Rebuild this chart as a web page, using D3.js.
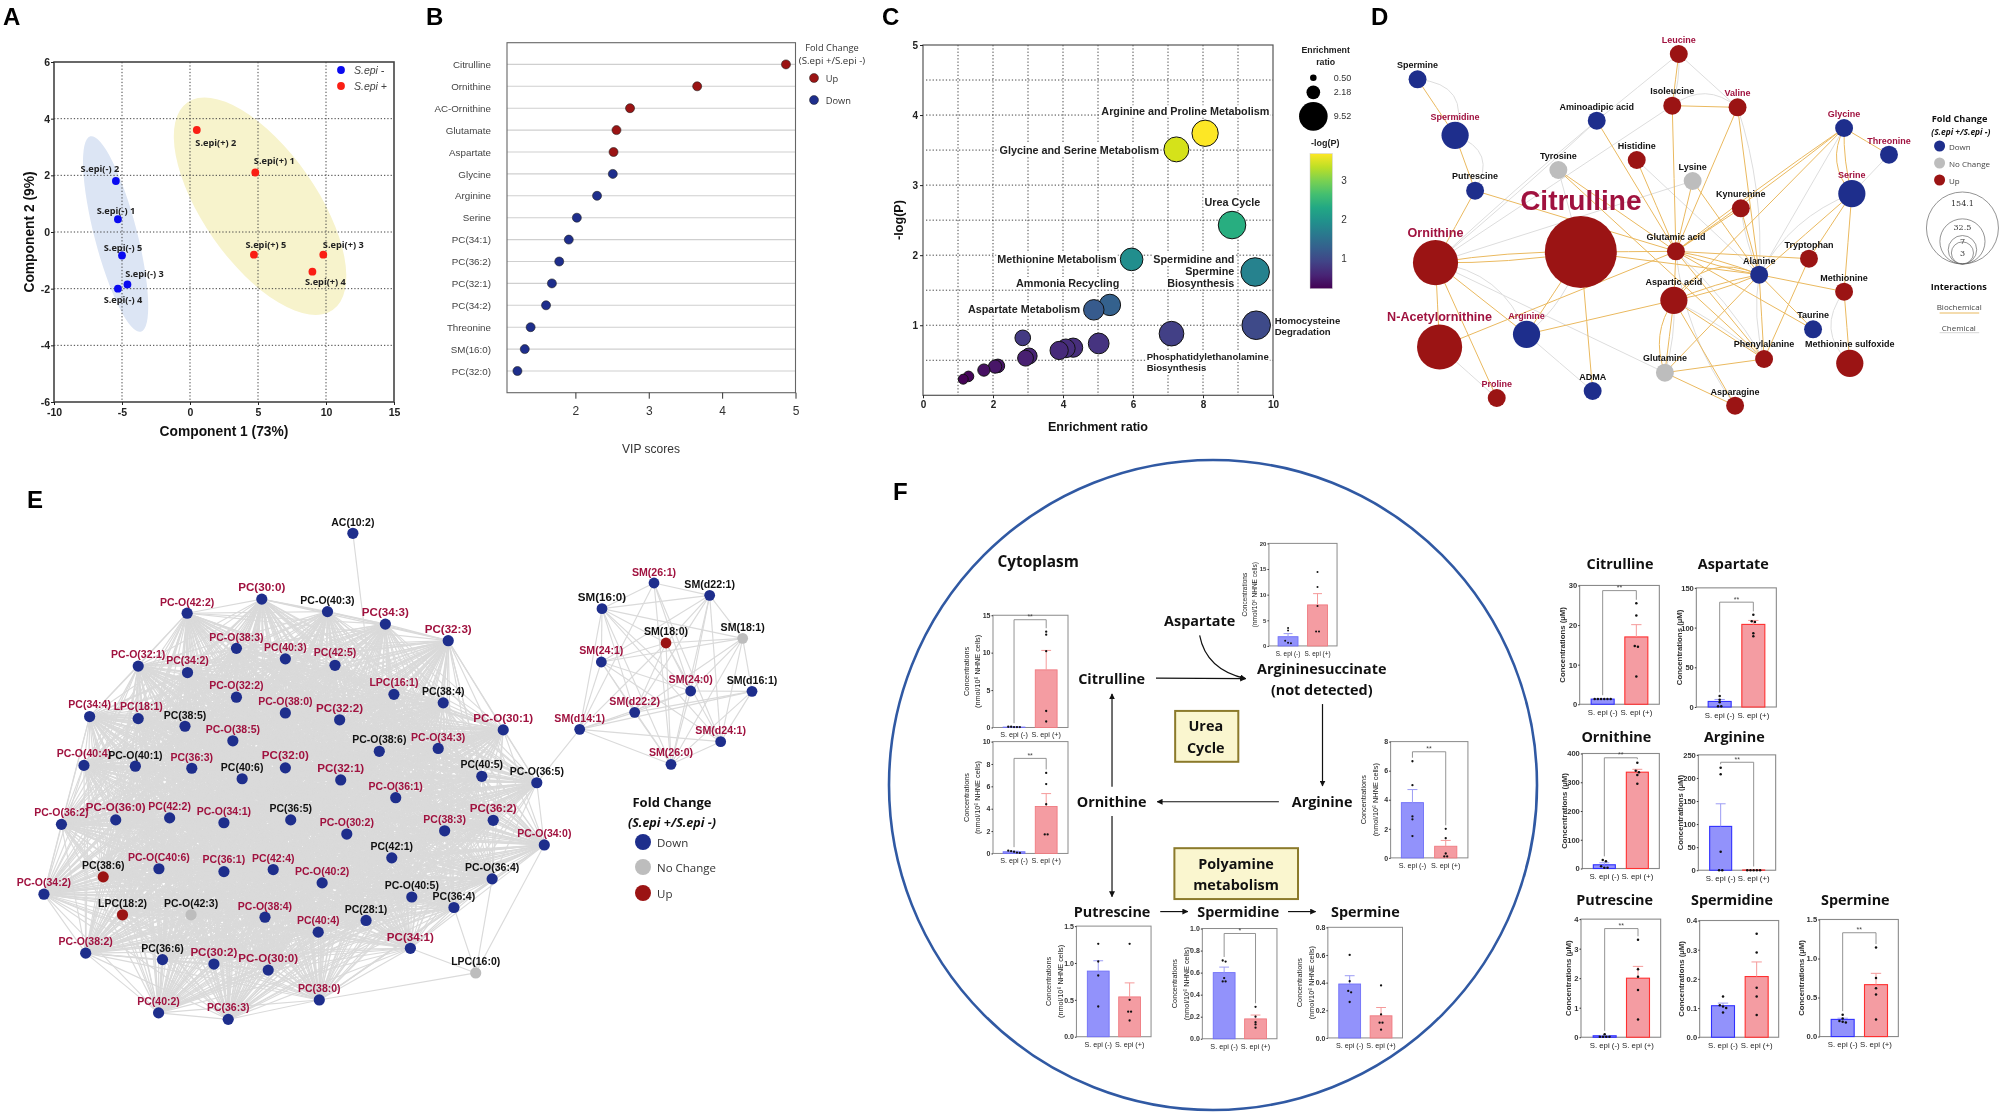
<!DOCTYPE html>
<html><head><meta charset="utf-8">
<script src="https://cdn.jsdelivr.net/npm/d3@7/dist/d3.min.js"></script>
<style>html,body{margin:0;padding:0;background:#fff}svg{display:block;filter:blur(0.4px)}text{font-family:"Liberation Sans",Arial,sans-serif}</style>
</head><body><svg id="c" width="2000" height="1113" viewBox="0 0 2000 1113"></svg>
<script>
/* ---------- Panel A: PLS-DA scores ---------- */
const pcaNames=["S.epi(-) 1","S.epi(-) 2","S.epi(-) 3","S.epi(-) 4","S.epi(-) 5","S.epi(+) 1","S.epi(+) 2","S.epi(+) 3","S.epi(+) 4","S.epi(+) 5"];
const pcaC1=[-5.3,-5.45,-4.6,-5.3,-5.0,4.8,0.5,9.8,9.0,4.7];
const pcaC2=[0.45,1.8,-1.85,-2.0,-0.83,2.1,3.6,-0.8,-1.4,-0.8];
const pcaLabelDx=[-2,-16,17,5,1,19,19,20,13,12];
const pcaLabelDy=[-9,-13,-11,11,-8,-12,12,-10,10,-10];
/* ---------- Panel B: VIP ---------- */
const vipNames=["Citrulline","Ornithine","AC-Ornithine","Glutamate","Aspartate","Glycine","Arginine","Serine","PC(34:1)","PC(36:2)","PC(32:1)","PC(34:2)","Threonine","SM(16:0)","PC(32:0)"];
const vipScores=[4.87,3.66,2.745,2.56,2.52,2.51,2.295,2.02,1.91,1.78,1.68,1.6,1.39,1.31,1.21];
const vipUp=["Citrulline","Ornithine","AC-Ornithine","Glutamate","Aspartate"];
/* ---------- Panel C: enrichment ---------- */
const enrRatio=[8.06,7.24,8.83,5.96,9.49,5.34,4.88,9.52,7.1,2.85,5.02,4.29,4.08,3.89,3.03,2.93,2.14,2.06,1.74,1.3,1.15];
const enrLogP=[3.74,3.51,2.43,1.94,1.76,1.29,1.22,1.0,0.88,0.82,0.74,0.68,0.67,0.64,0.56,0.53,0.42,0.41,0.36,0.27,0.23];
const enrLegend=[0.5,2.18,9.52];
/* ---------- Panel D: metabolite network ---------- */
const dLayout=[["Spermine",141,238,141,196],["Spermidine",233,406,233,350],["Putrescine",282,572,282,529],["Ornithine",185,788,185,698],["N-Acetylornithine",195,1041,195,952],["Citrulline",541,756,541,600],["Arginine",408,1003,408,947],["Proline",335,1194,335,1152],["ADMA",570,1173,570,1131],["Aminoadipic acid",580,362,580,320],["Tyrosine",486,510,486,468],["Histidine",678,480,678,438],["Lysine",815,543,815,501],["Leucine",781,162,781,120],["Isoleucine",765,317,765,274],["Valine",925,322,925,279],["Kynurenine",933,625,933,582],["Glutamic acid",774,754,774,711],["Alanine",978,824,978,782],["Aspartic acid",769,901,769,846],["Tryptophan",1100,776,1100,734],["Methionine",1186,875,1186,833],["Taurine",1110,988,1110,945],["Phenylalanine",990,1077,990,1033],["Glutamine",747,1118,747,1074],["Asparagine",919,1217,919,1175],["Methionine sulfoxide",1200,1090,1200,1033],["Glycine",1186,384,1186,342],["Threonine",1296,464,1296,422],["Serine",1205,581,1205,526]];
const dUp=["Ornithine","N-Acetylornithine","Citrulline","Proline","Histidine","Leucine","Isoleucine","Valine","Kynurenine","Glutamic acid","Aspartic acid","Tryptophan","Methionine","Phenylalanine","Asparagine","Methionine sulfoxide"];
const dNoChange=["Tyrosine","Lysine","Glutamine"];
const dRedLabels=["Spermidine","Ornithine","N-Acetylornithine","Citrulline","Arginine","Proline","Leucine","Valine","Glycine","Threonine","Serine"];
const dConcentration={Citrulline:154.1,Ornithine:32.5,"N-Acetylornithine":32.5,Spermidine:6,Arginine:6,"Aspartic acid":6,Serine:6,"Methionine sulfoxide":6};
const dSizeLegend=[154.1,32.5,7,3];
const dBio=[["Spermine","Spermidine"],["Spermidine","Putrescine"],["Putrescine","Ornithine"],["Putrescine","Glutamic acid"],["Ornithine","Citrulline",4],["Ornithine","Citrulline",-4],["Ornithine","N-Acetylornithine"],["Ornithine","Proline"],["Ornithine","Arginine"],["Citrulline","Glutamic acid"],["Citrulline","Arginine"],["Citrulline","ADMA"],["Citrulline","Alanine"],["N-Acetylornithine","Glutamic acid"],["Arginine","Aspartic acid"],["Tyrosine","Glutamic acid"],["Tyrosine","Phenylalanine"],["Aminoadipic acid","Glutamic acid"],["Histidine","Glutamic acid"],["Isoleucine","Glutamic acid"],["Isoleucine","Valine"],["Valine","Glutamic acid"],["Valine","Alanine"],["Leucine","Isoleucine"],["Lysine","Glutamic acid"],["Lysine","Alanine"],["Kynurenine","Glutamic acid"],["Kynurenine","Alanine"],["Glutamic acid","Aspartic acid"],["Glutamic acid","Alanine",3],["Glutamic acid","Alanine",-3],["Glutamic acid","Tryptophan"],["Glutamic acid","Taurine"],["Glutamic acid","Phenylalanine"],["Aspartic acid","Alanine",3],["Aspartic acid","Alanine",-3],["Aspartic acid","Alanine",-24],["Aspartic acid","Phenylalanine"],["Aspartic acid","Asparagine"],["Aspartic acid","Glutamine",12],["Aspartic acid","Glutamine"],["Glutamine","Phenylalanine"],["Glutamine","Asparagine"],["Glutamine","Alanine"],["Glycine","Serine",3],["Glycine","Serine",14],["Glycine","Threonine"],["Glycine","Glutamic acid",2],["Glycine","Glutamic acid",-2],["Glycine","Aspartic acid"],["Serine","Alanine"],["Serine","Tryptophan"],["Serine","Methionine"],["Methionine","Alanine"],["Methionine","Methionine sulfoxide"],["Tryptophan","Phenylalanine"],["Alanine","Phenylalanine"],["Alanine","Taurine"]];
const dChem=[["Leucine","Aminoadipic acid"],["Leucine","Valine"],["Leucine","Isoleucine",-3],["Isoleucine","Valine",-16],["Spermine","Spermidine",-26],["Spermidine","Putrescine",-22],["Ornithine","Aminoadipic acid",2],["Ornithine","Aminoadipic acid",-2],["Ornithine","Isoleucine"],["Ornithine","Lysine"],["Ornithine","Arginine",-22],["Ornithine","Glutamine"],["Citrulline","Tyrosine"],["Arginine","ADMA"],["N-Acetylornithine","Proline"],["Histidine","Alanine"],["Valine","Alanine",-10],["Kynurenine","Alanine",3],["Serine","Alanine",14],["Threonine","Serine"],["Glycine","Alanine"],["Glutamic acid","Phenylalanine",-6],["Aspartic acid","Phenylalanine",-4],["Alanine","Phenylalanine",6],["Methionine","Methionine sulfoxide",20],["Aspartic acid","Glutamine",-4],["Glutamic acid","Asparagine",14],["Arginine","Citrulline",10]];
/* ---------- Panel E: lipid network ---------- */
const eLayout=[["AC(10:2)",988,132,104],["PC(30:0)",733,295,264],["PC-O(42:2)",524,330,301],["PC-O(40:3)",917,326,297],["PC(34:3)",1079,357,326],["PC(32:3)",1255,398,367],["PC-O(38:3)",662,417,388],["PC(40:3)",799,443,413],["PC(42:5)",938,459,427],["PC-O(32:1)",387,461,431],["PC(34:2)",525,477,447],["LPC(16:1)",1103,531,501],["PC(38:4)",1241,552,523],["PC-O(32:2)",662,538,508],["PC-O(38:0)",799,577,548],["PC(32:2)",951,594,563],["PC(34:4)",251,586,556],["LPC(18:1)",387,591,561],["PC(38:5)",518,610,581],["PC-O(38:5)",652,646,616],["PC-O(30:1)",1409,619,588],["PC-O(38:6)",1062,672,641],["PC-O(34:3)",1227,665,636],["PC-O(40:4)",235,707,677],["PC-O(40:1)",379,709,680],["PC(36:3)",537,714,685],["PC(40:6)",678,740,711],["PC(32:0)",799,713,681],["PC(32:1)",954,743,712],["PC-O(36:1)",1108,787,757],["PC(40:5)",1349,734,704],["PC-O(36:5)",1503,750,721],["PC-O(36:2)",172,853,823],["PC-O(36:0)",324,842,810],["PC(42:2)",475,837,807],["PC-O(34:1)",627,849,819],["PC(36:5)",814,842,813],["PC-O(30:2)",971,877,848],["PC(38:3)",1245,869,839],["PC(36:2)",1381,843,811],["PC-O(34:0)",1524,904,875],["PC(42:1)",1097,936,907],["PC-O(36:4)",1378,988,959],["PC-O(C40:6)",445,963,934],["PC(36:1)",627,970,940],["PC(42:4)",765,965,936],["PC-O(40:2)",902,998,968],["PC(38:6)",289,983,954],["PC-O(34:2)",123,1026,997],["PC-O(40:5)",1153,1033,1003],["PC(36:4)",1271,1059,1030],["LPC(18:2)",343,1077,1048],["PC-O(42:3)",535,1077,1049],["PC-O(38:4)",742,1083,1055],["PC(28:1)",1025,1091,1062],["PC(40:4)",891,1120,1090],["PC-O(38:2)",240,1172,1142],["PC(36:6)",455,1188,1159],["PC(30:2)",599,1199,1168],["PC-O(30:0)",751,1214,1184],["PC(34:1)",1149,1160,1130],["LPC(16:0)",1332,1221,1192],["PC(38:0)",894,1288,1258],["PC(40:2)",444,1320,1291],["PC(36:3) ",639,1336,1306]];
const eUp=["PC(38:6)","LPC(18:2)"];
const eNoChange=["PC-O(42:3)","LPC(16:0)"];
const eBlack=["AC(10:2)","PC-O(40:3)","PC(38:4)","PC(38:5)","PC-O(38:6)","PC-O(40:1)","PC(40:6)","PC(40:5)","PC-O(36:5)","PC(36:5)","PC(42:1)","PC-O(36:4)","PC(38:6)","PC-O(40:5)","PC(36:4)","LPC(18:2)","PC-O(42:3)","PC(28:1)","PC(36:6)","LPC(16:0)"];
const eBig=["PC(30:0)","PC(34:3)","PC(32:3)","PC(32:2)","PC(32:0)","PC(32:1)","PC-O(30:1)","PC-O(36:0)","PC(36:2)","PC(34:1)","PC-O(30:0)","PC(30:2)"];
const eLpc16Links=["PC-O(34:0)","PC(36:4)","PC(34:1)","PC(38:0)","PC-O(36:4)"];
const smLayout=[["SM(26:1)",402,129,95],["SM(d22:1)",569,166,131],["SM(16:0)",246,206,168],["SM(18:0)",438,309,274],["SM(18:1)",668,295,261],["SM(24:1)",244,366,330],["SM(24:0)",512,453,418],["SM(d16:1)",696,454,419],["SM(d22:2)",344,517,482],["SM(d14:1)",179,568,533],["SM(d24:1)",602,605,569],["SM(26:0)",453,673,637]];
const smBlack=["SM(d22:1)","SM(16:0)","SM(18:0)","SM(18:1)","SM(d16:1)"];
const smMissing=[["SM(d22:1)","SM(d14:1)"],["SM(26:1)","SM(d16:1)"],["SM(26:1)","SM(18:1)"],["SM(16:0)","SM(d16:1)"],["SM(24:1)","SM(26:1)"],["SM(24:1)","SM(d16:1)"],["SM(18:0)","SM(26:1)"],["SM(d24:1)","SM(24:0)"],["SM(d24:1)","SM(d22:2)"],["SM(d14:1)","SM(18:1)"],["SM(d22:1)","SM(d16:1)"],["SM(d22:2)","SM(26:1)"],["SM(d16:1)","SM(18:0)"]];
/* ---------- Panel F: cytoplasm bars ---------- */
const barGroups=["S. epi (-)","S. epi (+)"];
const cCitTicks=[0,5,10,15],cCitMeans=[0.05,7.7],cCitTops=[0.08,10.3],cCitNeg=[0.1,0.05,0.05,0.05,0.1],cCitPos=[12.8,12.4,10.2,2.2,0.8];
const cOrnTicks=[0,2,4,6,8,10],cOrnMeans=[0.15,4.2],cOrnTops=[0.2,5.35],cOrnNeg=[0.25,0.2,0.15,0.08,0.05],cOrnPos=[7.2,6.2,4.4,1.7,1.7];
const cAspTicks=[0,5,10,15,20],cAspMeans=[1.8,8],cAspTops=[2.4,10.2],cAspNeg=[3.5,3,1,0.5,0.6],cAspPos=[14.4,11.5,7.8,2.8,2.8];
const cArgTicks=[0,2,4,6,8],cArgMeans=[3.8,0.8],cArgTops=[4.7,1.2],cArgNeg=[6.65,5,2.85,2.65,1.5],cArgPos=[2,1.35,0.3,0.1,0.1];
const cPutTicks=[0,0.5,1,1.5],cPutMeans=[0.89,0.54],cPutTops=[1.03,0.73],cPutNeg=[1.26,1.02,0.83,0.41],cPutPos=[1.26,0.5,0.34,0.34,0.22];
const cSpdTicks=[0,0.2,0.4,0.6,0.8,1],cSpdMeans=[0.6,0.18],cSpdTops=[0.65,0.215],cSpdNeg=[0.71,0.7,0.55,0.52,0.52],cSpdPos=[0.29,0.2,0.15,0.13,0.1];
const cSpmTicks=[0,0.2,0.4,0.6,0.8],cSpmMeans=[0.39,0.16],cSpmTops=[0.45,0.22],cSpmNeg=[0.6,0.41,0.34,0.33,0.26],cSpmPos=[0.38,0.17,0.11,0.11,0.06];
/* ---------- Panel F: extracellular bars ---------- */
const xCitTicks=[0,10,20,30],xCitMeans=[1.3,17],xCitTops=[1.4,20.1],xCitNeg=[1.3,1.3,1.3,1.3,1.3,1.3],xCitPos=[25.5,22.4,14.7,14.5,7];
const xAspTicks=[0,50,100,150],xAspMeans=[7,104],xAspTops=[9.5,109],xAspNeg=[14,9,6,1,1],xAspPos=[116,108,107,93,89];
const xOrnTicks=[0,100,200,300,400],xOrnMeans=[13,335],xOrnTops=[20,345],xOrnNeg=[30,25,8,3,3],xOrnPos=[368,340,335,325,295];
const xArgTicks=[0,50,100,150,200,250],xArgMeans=[95,0.5],xArgTops=[144,0.5],xArgNeg=[222,208,40,0,0],xArgPos=[0,0,0,0,0];
const xPutTicks=[0,1,2,3,4],xPutMeans=[0.05,2],xPutTops=[0.06,2.4],xPutNeg=[0.1,0.02,0.02,0.02,0.02],xPutPos=[3.3,2.3,2.05,1.6,0.6];
const xSpdTicks=[0,0.1,0.2,0.3,0.4],xSpdMeans=[0.108,0.208],xSpdTops=[0.117,0.258],xSpdNeg=[0.14,0.11,0.105,0.1,0.085],xSpdPos=[0.355,0.29,0.17,0.14,0.076];
const xSpmTicks=[0,0.5,1,1.5],xSpmMeans=[0.22,0.665],xSpmTops=[0.235,0.81],xSpmNeg=[0.28,0.23,0.2,0.19,0.18],xSpmPos=[1.14,0.75,0.62,0.54,0.22];

/* ---------- helpers ---------- */
const svg=d3.select("#c");
const RED="#9B1414",BLUE="#1E2E8C",GREY="#BDBDBD",MAROON="#A0123F",SERIF='"Open Sans",sans-serif',GRIDDASH="1.3,2";
const defs=svg.append("defs");
defs.append("marker").attr("id","arw").attr("viewBox","0 0 10 10").attr("refX",9).attr("refY",5).attr("markerWidth",6).attr("markerHeight",6).attr("orient","auto").attr("markerUnits","userSpaceOnUse")
 .append("path").attr("d","M0,0L10,5L0,10Z").attr("fill","#111");
function T(g,x,y,s,o={}){
 const t=g.append("text").attr("x",x).attr("y",y).text(s).attr("text-anchor",o.a||"middle").attr("dominant-baseline","central")
  .attr("font-size",o.s||10).attr("font-weight",o.w||"normal").attr("fill",o.c||"#111");
 if(o.f)t.style("font-family",o.f); if(o.i)t.attr("font-style","italic");
 if(o.r!==undefined)t.attr("transform",`rotate(${o.r} ${x} ${y})`);
 return t;}
function frame(g,x0,y0,x1,y1,c,w){g.append("rect").attr("x",x0).attr("y",y0).attr("width",x1-x0).attr("height",y1-y0).attr("fill","none").attr("stroke",c).attr("stroke-width",w);}
function styleAxis(a,size,weight,color){
 a.selectAll("text").attr("font-size",size).attr("font-weight",weight).attr("fill",color);
 a.selectAll("line").attr("stroke",color);
 a.select(".domain").remove();}
const plain=v=>String(v);
const letters=[["A",3,16],["B",426,16],["C",882,16],["D",1371,16],["E",27,499],["F",893,491]];
letters.forEach(l=>T(svg,l[1],l[2],l[0],{a:"start",s:24,w:"bold",c:"#000"}));

/* ---------- A ---------- */
(function(){
 const g=svg.append("g");
 const x=d3.scaleLinear([-10,15],[54,394]),y=d3.scaleLinear([-6,6],[402,62]);
 function ell(cx,cy,a,b,deg,fill){g.append("ellipse").attr("cx",x(cx)).attr("cy",y(cy)).attr("rx",a).attr("ry",b).attr("fill",fill).attr("transform",`rotate(${deg} ${x(cx)} ${y(cy)})`);}
 ell(-5.47,-0.07,100.9,21.3,75.5,"#DCE5F4");
 ell(5.15,0.91,126.7,56.7,55,"#F7F3CC");
 [-5,0,5,10].forEach(v=>g.append("line").attr("x1",x(v)).attr("x2",x(v)).attr("y1",62).attr("y2",402).attr("stroke","#444").attr("stroke-dasharray",GRIDDASH));
 [-4,-2,0,2,4].forEach(v=>g.append("line").attr("y1",y(v)).attr("y2",y(v)).attr("x1",54).attr("x2",394).attr("stroke","#444").attr("stroke-dasharray",GRIDDASH));
 frame(g,54,62,394,402,"#444",1.6);
 const ax=g.append("g").attr("transform","translate(0,402)").call(d3.axisBottom(x).tickValues([-10,-5,0,5,10,15]).tickSize(3).tickPadding(4).tickFormat(plain));styleAxis(ax,10.5,"bold","#222");
 const ay=g.append("g").attr("transform","translate(54,0)").call(d3.axisLeft(y).tickValues([-6,-4,-2,0,2,4,6]).tickSize(3).tickPadding(1).tickFormat(plain));styleAxis(ay,10.5,"bold","#222");
 pcaNames.forEach((n,i)=>{const c=i<5?"#0A0AF0":"#FA1E14";
  g.append("circle").attr("cx",x(pcaC1[i])).attr("cy",y(pcaC2[i])).attr("r",3.9).attr("fill",c);
  T(g,x(pcaC1[i])+pcaLabelDx[i],y(pcaC2[i])+pcaLabelDy[i],n,{s:9.2,w:"bold",f:SERIF,c:"#222"});});
 T(g,224,431,"Component 1 (73%)",{s:13.8,w:"bold"});
 T(g,29,232,"Component 2 (9%)",{s:13.8,w:"bold",r:-90});
 [["S.epi -","#0A0AF0",70],["S.epi +","#FA1E14",86]].forEach(l=>{g.append("circle").attr("cx",341).attr("cy",l[2]).attr("r",3.9).attr("fill",l[1]);T(g,354,l[2],l[0],{a:"start",s:10.5,i:1,c:"#444"});});
})();

/* ---------- B ---------- */
(function(){
 const g=svg.append("g");
 const x=d3.scaleLinear([1.068,5],[507,795.5]),y=d3.scalePoint(vipNames,[64.4,371]);
 vipNames.forEach(n=>g.append("line").attr("x1",507).attr("x2",795.5).attr("y1",y(n)).attr("y2",y(n)).attr("stroke","#CFCFCF").attr("stroke-width",1.1));
 frame(g,507,42.7,795.5,392.7,"#666",1.1);
 const ax=g.append("g").attr("transform","translate(0,392.7)").call(d3.axisBottom(x).tickValues([2,3,4,5]).tickSize(6).tickPadding(8).tickFormat(plain));styleAxis(ax,12,"normal","#333");
 const ay=g.append("g").attr("transform","translate(491,0)").call(d3.axisLeft(y).tickSize(0).tickPadding(0));styleAxis(ay,9.8,"normal","#444");
 vipNames.forEach((n,i)=>g.append("circle").attr("cx",x(vipScores[i])).attr("cy",y(n)).attr("r",4.5).attr("fill",vipUp.includes(n)?RED:BLUE).attr("stroke","#222").attr("stroke-width",.6));
 T(g,651,449,"VIP scores",{s:12,c:"#333"});
 T(g,832,47,"Fold Change",{s:9.3,f:SERIF,c:"#333"});
 T(g,832,60.7,"(S.epi +/S.epi -)",{s:9.7,f:SERIF,c:"#333"});
 [["Up",RED,78],["Down",BLUE,100]].forEach(l=>{g.append("circle").attr("cx",814).attr("cy",l[2]).attr("r",4.5).attr("fill",l[1]).attr("stroke","#222").attr("stroke-width",.5);T(g,825.7,l[2],l[0],{a:"start",s:9.3,f:SERIF,c:"#333"});});
})();

/* ---------- C ---------- */
(function(){
 const g=svg.append("g");
 const x=d3.scaleLinear([0,10],[923,1273]),y=d3.scaleLinear([0,5],[395.3,45]);
 const r=d3.scaleSqrt([0,9.52],[0,14.3]);
 const col=d3.scaleSequential(d3.interpolateViridis).domain([0.215,3.74]);
 d3.range(1,10).forEach(v=>g.append("line").attr("x1",x(v)).attr("x2",x(v)).attr("y1",45).attr("y2",395).attr("stroke","#444").attr("stroke-dasharray",GRIDDASH));
 d3.range(0.5,5,0.5).forEach(v=>g.append("line").attr("y1",y(v)).attr("y2",y(v)).attr("x1",926).attr("x2",1273).attr("stroke","#444").attr("stroke-dasharray",GRIDDASH));
 frame(g,923,45,1273,395.3,"#555",1.2);
 const ax=g.append("g").attr("transform","translate(0,395.3)").call(d3.axisBottom(x).tickValues([0,2,4,6,8,10]).tickSize(3).tickPadding(3).tickFormat(plain));styleAxis(ax,10,"bold","#222");
 const ay=g.append("g").attr("transform","translate(923,0)").call(d3.axisLeft(y).tickValues([1,2,3,4,5]).tickSize(3).tickPadding(2).tickFormat(plain));styleAxis(ay,10,"bold","#222");
 T(g,1098,427,"Enrichment ratio",{s:12.6,w:"bold"});
 T(g,899,220,"-log(P)",{s:12.6,w:"bold",r:-90});
 function L(px,py,s,o){const t=T(g,px,py,s,Object.assign({w:"bold",s:10.8,c:"#222"},o));const b=t.node().getBBox();
   g.append("rect").attr("x",b.x-1).attr("y",b.y).attr("width",b.width+2).attr("height",b.height).attr("fill","#fff");
   t.raise();return t;}
 const zx=z=>880+z/3,zy=z=>z/3;
 L(zx(916),zy(334),"Arginine and Proline Metabolism");
 L(zx(598),zy(449),"Glycine and Serine Metabolism");
 L(zx(1057),zy(605),"Urea Cycle");
 L(zx(531),zy(776),"Methionine Metabolism");
 L(zx(1063),zy(776),"Spermidine and",{a:"end"});L(zx(1063),zy(814),"Spermine",{a:"end"});L(zx(1063),zy(850),"Biosynthesis",{a:"end"});
 L(zx(563),zy(849),"Ammonia Recycling");
 L(zx(432),zy(927),"Aspartate Metabolism");
 T(g,zx(1184),zy(962),"Homocysteine",{a:"start",w:"bold",s:9.6,c:"#222"});T(g,zx(1184),zy(995),"Degradation",{a:"start",w:"bold",s:9.6,c:"#222"});
 L(zx(800),zy(1069),"Phosphatidylethanolamine",{a:"start",s:9.6});L(zx(800),zy(1102),"Biosynthesis",{a:"start",s:9.6});
 const order=d3.range(enrRatio.length).sort((a,b)=>enrRatio[b]-enrRatio[a]);
 order.forEach(i=>g.append("circle").attr("cx",x(enrRatio[i])).attr("cy",y(enrLogP[i])).attr("r",r(enrRatio[i])).attr("fill",col(enrLogP[i])).attr("stroke","#111").attr("stroke-width",1));
 T(g,zx(1337),zy(151),"Enrichment",{s:8.8,w:"bold",c:"#222"});T(g,zx(1337),zy(185),"ratio",{s:8.8,w:"bold",c:"#222"});
 [233,277,349].forEach((yy,i)=>{g.append("circle").attr("cx",zx(1300)).attr("cy",zy(yy)).attr("r",r(enrLegend[i])).attr("fill","#000");T(g,zx(1361),zy(yy),enrLegend[i].toFixed(2),{a:"start",s:9,c:"#333"});});
 T(g,zx(1336),zy(430),"-log(P)",{s:9,w:"bold",c:"#222"});
 const grad=defs.append("linearGradient").attr("id","vir").attr("x1",0).attr("x2",0).attr("y1",1).attr("y2",0);
 d3.range(0,1.01,0.1).forEach(t=>grad.append("stop").attr("offset",t).attr("stop-color",d3.interpolateViridis(t)));
 g.append("rect").attr("x",zx(1290)).attr("y",zy(461)).attr("width",22.3).attr("height",135).attr("fill","url(#vir)").attr("stroke","#ccc").attr("stroke-width",.5);
 const cb=d3.scaleLinear([0.215,3.7],[zy(866),zy(461)]);
 const cax=g.append("g").attr("transform",`translate(${zx(1357)+9},0)`).call(d3.axisRight(cb).tickValues([1,2,3]).tickSize(0).tickPadding(0).tickFormat(plain));styleAxis(cax,10,"normal","#333");
})();

/* ---------- D ---------- */
(function(){
 const g=svg.append("g");
 const x=d3.scaleLinear([0,1568],[1360,2000]),y=d3.scaleLinear([0,1350],[0,450]);
 const rs=d3.scalePow().exponent(0.3).domain([0,154.1]).range([0,36]);
 const nd=new Map(dLayout.map(d=>[d[0],d]));
 function edge(e,c,w){const a=nd.get(e[0]),b=nd.get(e[1]);const x1=x(a[1]),y1=y(a[2]),x2=x(b[1]),y2=y(b[2]);
  const k=e[2]||0,dx=x2-x1,dy=y2-y1,l=Math.hypot(dx,dy)||1;const mx=(x1+x2)/2-dy/l*k*1.6,my=(y1+y2)/2+dx/l*k*1.6;
  const p=d3.path();p.moveTo(x1,y1);p.quadraticCurveTo(mx,my,x2,y2);
  g.append("path").attr("d",p.toString()).attr("fill","none").attr("stroke",c).attr("stroke-width",w);}
 dChem.forEach(e=>edge(e,"#DDDDDD",1));
 dBio.forEach(e=>edge(e,"#EAB95F",1));
 dLayout.forEach(d=>{const n=d[0],c=dUp.includes(n)?RED:dNoChange.includes(n)?GREY:BLUE;
  g.append("circle").attr("cx",x(d[1])).attr("cy",y(d[2])).attr("r",rs(dConcentration[n]||1.5)).attr("fill",c);});
 dLayout.forEach(d=>{const n=d[0];const sz=n==="Citrulline"?28:(n==="Ornithine"||n==="N-Acetylornithine")?12.6:9;
  T(g,x(d[3]),y(d[4]),n,{s:sz,w:"bold",c:dRedLabels.includes(n)?MAROON:"#111"});});
 T(g,x(1469),118,"Fold Change",{s:9.2,w:"bold",f:SERIF});
 T(g,x(1472),131.7,"(S.epi +/S.epi -)",{s:8.4,w:"bold",i:1,f:SERIF});
 [["Down",BLUE,146],["No Change",GREY,163],["Up",RED,180]].forEach(l=>{g.append("circle").attr("cx",x(1420)).attr("cy",l[2]).attr("r",5.5).attr("fill",l[1]);T(g,x(1443),l[2],l[0],{a:"start",s:8,f:SERIF,c:"#444"});});
 dSizeLegend.forEach(v=>g.append("circle").attr("cx",x(1476)).attr("cy",264-rs(v)).attr("r",rs(v)).attr("fill","none").attr("stroke","#666").attr("stroke-width",.7));
 [203,227,241.7,253].forEach((yy,i)=>T(g,x(1476),yy,String(dSizeLegend[i]),{s:8,f:'"DejaVu Serif",serif',c:"#333"}));
 T(g,x(1467),286.7,"Interactions",{s:9.2,w:"bold",f:SERIF});
 T(g,x(1468),306.7,"Biochemical",{s:8,f:SERIF,c:"#444"});
 g.append("line").attr("x1",x(1420)).attr("x2",x(1517)).attr("y1",313).attr("y2",313).attr("stroke","#EAB95F").attr("stroke-width",1.2);
 T(g,x(1467),327,"Chemical",{s:8,f:SERIF,c:"#444"});
 g.append("line").attr("x1",x(1420)).attr("x2",x(1517)).attr("y1",332.7).attr("y2",332.7).attr("stroke","#DDD").attr("stroke-width",1.2);
})();

/* ---------- E ---------- */
(function(){
 const g=svg.append("g");
 const x=d3.scaleLinear([0,1568],[0,560]),y=d3.scaleLinear([0,1568],[480,1113]);
 const sx=d3.scaleLinear([0,1080],[520,880]),sy=d3.scaleLinear([0,1200],[540,940]);
 const isSpecial=n=>n==="AC(10:2)"||n==="LPC(16:0)";
 const pts=new Map(eLayout.map(d=>[d[0],[x(d[1]),y(d[2])]]));
 const core=eLayout.filter(d=>!isSpecial(d[0]));
 const lines=g.append("g").attr("stroke","#DADADA").attr("stroke-width",1.15);
 const link=(a,b)=>lines.append("line").attr("x1",a[0]).attr("y1",a[1]).attr("x2",b[0]).attr("y2",b[1]);
 core.forEach((a,i)=>core.slice(i+1).forEach(b=>link(pts.get(a[0]),pts.get(b[0]))));
 link(pts.get("AC(10:2)"),pts.get("PC-O(38:6)"));
 eLpc16Links.forEach(n=>link(pts.get("LPC(16:0)"),pts.get(n)));
 const sm=new Map(smLayout.map(d=>[d[0],[sx(d[1]),sy(d[2])]]));
 const missing=new Set(smMissing.flatMap(p=>[p[0]+"|"+p[1],p[1]+"|"+p[0]]));
 smLayout.forEach((a,i)=>smLayout.slice(i+1).forEach(b=>{if(!missing.has(a[0]+"|"+b[0]))link(sm.get(a[0]),sm.get(b[0]));}));
 link(pts.get("PC-O(36:5)"),sm.get("SM(d14:1)"));
 eLayout.forEach(d=>{const n=d[0].trim(),c=eUp.includes(n)?RED:eNoChange.includes(n)?GREY:BLUE;
  g.append("circle").attr("cx",x(d[1])).attr("cy",y(d[2])).attr("r",5.6).attr("fill",c);});
 eLayout.forEach(d=>{const n=d[0].trim();T(g,x(d[1]),y(d[3]),n,{s:eBig.includes(n)?11.6:10.5,w:"bold",c:eBlack.includes(n)?"#111":MAROON});});
 smLayout.forEach(d=>{const n=d[0],c=n==="SM(18:0)"?RED:n==="SM(18:1)"?GREY:BLUE;
  g.append("circle").attr("cx",sx(d[1])).attr("cy",sy(d[2])).attr("r",5.4).attr("fill",c);
  T(g,sx(d[1]),sy(d[3]),n,{s:n==="SM(16:0)"?11.6:10.6,w:"bold",c:smBlack.includes(n)?"#111":MAROON});});
 T(g,672,802,"Fold Change",{s:13,w:"bold",f:SERIF});
 T(g,672,822,"(S.epi +/S.epi -)",{s:12.5,w:"bold",i:1,f:SERIF});
 [["Down",BLUE,842],["No Change",GREY,867],["Up",RED,893]].forEach(l=>{g.append("circle").attr("cx",643).attr("cy",l[2]).attr("r",8).attr("fill",l[1]);T(g,657,l[2],l[0],{a:"start",s:11.5,f:SERIF,c:"#333"});});
})();

/* ---------- F ---------- */
const f7x=z=>900+z/2.613,f7y=z=>480+z/2.477,f8x=z=>1530+z/3,f8y=z=>540+z/2.904;
function bars(o){
 const g=svg.append("g");
 const y=d3.scaleLinear([0,o.ticks[o.ticks.length-1]],[o.y1,o.y0]);
 const x=d3.scalePoint(barGroups,[o.c0,o.c1]);
 const fills=["#9292FB","#F49CA2"],strokes=[o.strong?"#3030FF":"#7070F8",o.strong?"#FF3030":"#F07A80"],errs=["#9C9CF4","#F59A9A"];
 frame(g,o.x0,o.y0,o.x1,o.y1,"#8A8A8A",o.strong?1.1:1);
 barGroups.forEach((n,i)=>{const cx=x(n),top=y(o.means[i]),et=y(o.tops[i]),hw=o.bw/2;
  g.append("rect").attr("x",cx-hw).attr("y",top).attr("width",o.bw).attr("height",o.y1-top).attr("fill",fills[i]).attr("stroke",strokes[i]).attr("stroke-width",o.strong?1.1:.9);
  g.append("path").attr("d",`M${cx},${top}V${et}M${cx-hw*0.45},${et}H${cx+hw*0.45}`).attr("fill","none").attr("stroke",errs[i]).attr("stroke-width",1);
  const vals=(i?o.pos:o.neg).map(v=>y(v)).sort((a,b)=>a-b);
  const groups=[];vals.forEach(p=>{const l=groups[groups.length-1];if(l&&p-l[l.length-1]<2.2)l.push(p);else groups.push([p]);});
  groups.forEach(c=>c.forEach((p,j)=>g.append("circle").attr("cx",cx+(j-(c.length-1)/2)*(o.dx||2.9)).attr("cy",p).attr("r",o.dot||1.15).attr("fill","#111")));
 });
 if(o.bracket!==undefined){const yb=y(o.bracket);
  const lowL=Math.min(y(d3.max(o.neg)),y(o.tops[0]))-3.5,lowR=Math.min(y(d3.max(o.pos)),y(o.tops[1]))-3.5;
  g.append("path").attr("d",`M${x(barGroups[0])},${lowL}V${yb}H${x(barGroups[1])}V${lowR}`).attr("fill","none").attr("stroke","#888").attr("stroke-width",.9);
  T(g,(o.c0+o.c1)/2,yb-3,o.stars||"**",{s:7,c:"#444"});}
 const dec=o.ticks.some(v=>v%1!==0);
 const ay=g.append("g").attr("transform",`translate(${o.x0},0)`).call(d3.axisLeft(y).tickValues(o.ticks).tickSize(1.5).tickPadding(1).tickFormat(d3.format(dec?".1f":"d")));
 styleAxis(ay,o.tick||7,"bold","#333");
 barGroups.forEach(n=>T(g,x(n),o.y1+(o.strong?8:7.3),n,{s:o.lab||7.2,c:"#222"}));
 const ym=(o.y0+o.y1)/2;
 if(o.unitX) T(g,o.x0-o.unitX,ym,"Concentrations (µM)",{s:7.8,w:"bold",c:"#333",r:-90});
 else{const d=o.off||[26,15];
  T(g,o.x0-d[0],ym,"Concentrations",{s:o.axisFont||7.3,c:"#222",r:-90});
  T(g,o.x0-d[1],ym,"(nmol/10⁶ NHNE cells)",{s:o.axisFont||7.3,c:"#222",r:-90});}
}
const miniOpts=(x0,x1,y0,y1,c0,c1,bw,ticks,means,tops,neg,pos,extra)=>Object.assign({x0:f7x(x0),x1:f7x(x1),y0:f7y(y0),y1:f7y(y1),c0:f7x(c0),c1:f7x(c1),bw:bw/2.613,ticks,means,tops,neg,pos},extra||{});
const sideOpts=(x0,x1,y0,y1,c0,c1,ticks,means,tops,neg,pos,extra)=>Object.assign({x0:f8x(x0),x1:f8x(x1),y0:f8y(y0),y1:f8y(y1),c0:f8x(c0),c1:f8x(c1),bw:23,ticks,means,tops,neg,pos,strong:1,unitX:17,tick:7.6,lab:7.8,dx:3.2,dot:1.25},extra||{});
(function(){
 const g=svg.append("g");
 g.append("ellipse").attr("cx",1213).attr("cy",785).attr("rx",324).attr("ry",325).attr("fill","none").attr("stroke","#3059A3").attr("stroke-width",2.6);
 const F={s:14.4,w:"bold",f:SERIF,c:"#111"};
 T(g,f7x(361),f7y(203),"Cytoplasm",Object.assign({},F,{s:15.4}));
 [["Citrulline",553,491],["Aspartate",783,347],["Argininesuccinate",1102,466],["(not detected)",1102,519],["Ornithine",553,797],["Arginine",1103,797],["Putrescine",554,1069],["Spermidine",884,1069],["Spermine",1216,1069]].forEach(d=>T(g,f7x(d[1]),f7y(d[2]),d[0],F));
 function box(x0,y0,x1,y1,lines){g.append("rect").attr("x",f7x(x0)).attr("y",f7y(y0)).attr("width",f7x(x1)-f7x(x0)).attr("height",f7y(y1)-f7y(y0)).attr("fill","#FAF6CF").attr("stroke","#8B7A2B").attr("stroke-width",2);
  lines.forEach(l=>T(g,f7x(l[1]),f7y(l[2]),l[0],F));}
 box(719,572,884,698,[["Urea",799,609],["Cycle",799,662]]);
 box(717,912,1040,1038,[["Polyamine",878,949],["metabolism",878,1002]]);
 const arrow=d=>g.append("path").attr("d",d).attr("fill","none").attr("stroke","#111").attr("stroke-width",1.2).attr("marker-end","url(#arw)");
 const pt=(a,b)=>f7x(a)+","+f7y(b);
 arrow(`M${pt(669,491)}L${pt(903,492)}`);
 arrow(`M${pt(783,385)}Q${pt(800,470)} ${pt(903,492)}`);
 arrow(`M${pt(1104,555)}L${pt(1104,758)}`);
 arrow(`M${pt(990,797)}L${pt(672,797)}`);
 arrow(`M${pt(554,760)}L${pt(554,530)}`);
 arrow(`M${pt(554,832)}L${pt(554,1032)}`);
 arrow(`M${pt(680,1069)}L${pt(752,1069)}`);
 arrow(`M${pt(1014,1069)}L${pt(1086,1069)}`);
 [["Citrulline",270,68],["Aspartate",610,68],["Ornithine",259,570],["Arginine",613,570],["Putrescine",254,1045],["Spermidine",606,1045],["Spermine",976,1045]].forEach(d=>T(g,f8x(d[1]),f8y(d[2]),d[0],F));
})();
bars(miniOpts(243,439,335,613,298,382,57,cCitTicks,cCitMeans,cCitTops,cCitNeg,cCitPos,{bracket:14.4}));
bars(miniOpts(243,439,648,925,298,382,57,cOrnTicks,cOrnMeans,cOrnTops,cOrnNeg,cOrnPos,{bracket:8.5}));
bars(miniOpts(964,1142,157,411,1014,1091,52,cAspTicks,cAspMeans,cAspTops,cAspNeg,cAspPos,{tick:6,lab:6.4,axisFont:6.5,off:[24,14],dot:1}));
bars(miniOpts(1282,1484,648,936,1339,1426,58,cArgTicks,cArgMeans,cArgTops,cArgNeg,cArgPos,{bracket:7.3,off:[27,15]}));
bars(miniOpts(461,656,1105,1379,518,600,57,cPutTicks,cPutMeans,cPutTops,cPutNeg,cPutPos,{off:[28,16]}));
bars(miniOpts(790,985,1111,1384,847,929,57,cSpdTicks,cSpdMeans,cSpdTops,cSpdNeg,cSpdPos,{bracket:0.955,stars:"*",off:[28,16]}));
bars(miniOpts(1118,1313,1108,1382,1175,1257,57,cSpmTicks,cSpmMeans,cSpmTops,cSpmNeg,cSpmPos,{off:[28,16]}));
bars(sideOpts(149,388,132,477,218,319,xCitTicks,xCitMeans,xCitTops,xCitNeg,xCitPos,{bracket:28.7}));
bars(sideOpts(499,739,139,485,569,670,xAspTicks,xAspMeans,xAspTops,xAspNeg,xAspPos,{bracket:132}));
bars(sideOpts(157,388,620,954,223,322,xOrnTicks,xOrnMeans,xOrnTops,xOrnNeg,xOrnPos,{bracket:385,bw:22,unitX:18}));
bars(sideOpts(505,737,624,959,572,671,xArgTicks,xArgMeans,xArgTops,xArgNeg,xArgPos,{bracket:234,bw:22,unitX:18}));
bars(sideOpts(153,392,1101,1444,224,324,xPutTicks,xPutMeans,xPutTops,xPutNeg,xPutPos,{bracket:3.68,unitX:12}));
bars(sideOpts(509,746,1105,1444,579,680,xSpdTicks,xSpdMeans,xSpdTops,xSpdNeg,xSpdPos,{unitX:18}));
bars(sideOpts(869,1105,1102,1442,938,1038,xSpmTicks,xSpmMeans,xSpmTops,xSpmNeg,xSpmPos,{bracket:1.33,unitX:18}));
</script></body></html>
